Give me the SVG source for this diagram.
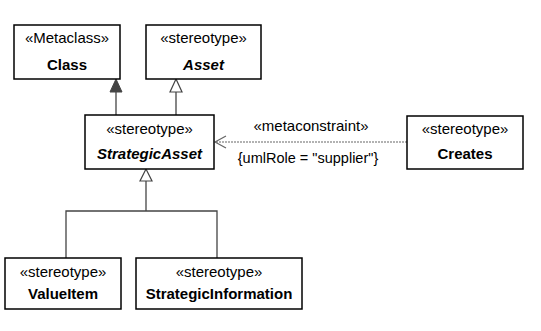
<svg xmlns="http://www.w3.org/2000/svg" width="541" height="331" viewBox="0 0 541 331">
<style>
.box{fill:#fff;stroke:#000;stroke-width:1.5}
text{font-family:"Liberation Sans",Arial,sans-serif;font-size:15px;fill:#000;text-anchor:middle}
.b{font-weight:bold}
.bi{font-weight:bold;font-style:italic}
.ln{fill:none;stroke:#444;stroke-width:1.3}
.dash{fill:none;stroke:#999;stroke-width:1.3;stroke-dasharray:2,1}
</style>
<rect width="541" height="331" fill="#fff"/>
<g id="connectors">
<line class="ln" x1="116" y1="115" x2="116" y2="92"/>
<polygon points="116,79 110,92 122,92" fill="#444" stroke="#444" stroke-width="1"/>
<line class="ln" x1="176" y1="115" x2="176" y2="92"/>
<polygon points="176,79 170,92 182,92" fill="#fff" stroke="#444" stroke-width="1.2"/>
<polyline class="ln" points="146,181 146,211"/>
<polyline class="ln" points="66,258 66,211 217,211 217,258"/>
<polygon points="146,169 140,181 152,181" fill="#fff" stroke="#444" stroke-width="1.2"/>
<line class="dash" x1="407" y1="142" x2="215" y2="142"/>
<polyline points="226,136 215,142 226,148" fill="none" stroke="#666" stroke-width="1.2"/>
<text x="311" y="131">«metaconstraint»</text>
<text x="308" y="163" style="font-size:14.5px">{umlRole = "supplier"}</text>
</g>
<g id="Class">
<rect class="box" x="14" y="25" width="106" height="54"/>
<text x="67" y="43">«Metaclass»</text>
<text class="b" x="67" y="70">Class</text>
</g>
<g id="Asset">
<rect class="box" x="146" y="25" width="115" height="54"/>
<text x="203.5" y="43">«stereotype»</text>
<text class="bi" x="203.5" y="70">Asset</text>
</g>
<g id="StrategicAsset">
<rect class="box" x="85" y="115" width="129" height="54"/>
<text x="149.5" y="134">«stereotype»</text>
<text class="bi" x="149.5" y="159">StrategicAsset</text>
</g>
<g id="Creates">
<rect class="box" x="407" y="116" width="116" height="53"/>
<text x="465" y="134">«stereotype»</text>
<text class="b" x="465" y="159">Creates</text>
</g>
<g id="ValueItem">
<rect class="box" x="5" y="258" width="116" height="51"/>
<text x="63" y="277">«stereotype»</text>
<text class="b" x="63" y="299">ValueItem</text>
</g>
<g id="StrategicInformation">
<rect class="box" x="136" y="258" width="166" height="51"/>
<text x="219" y="277">«stereotype»</text>
<text class="b" x="219" y="299">StrategicInformation</text>
</g>
</svg>
